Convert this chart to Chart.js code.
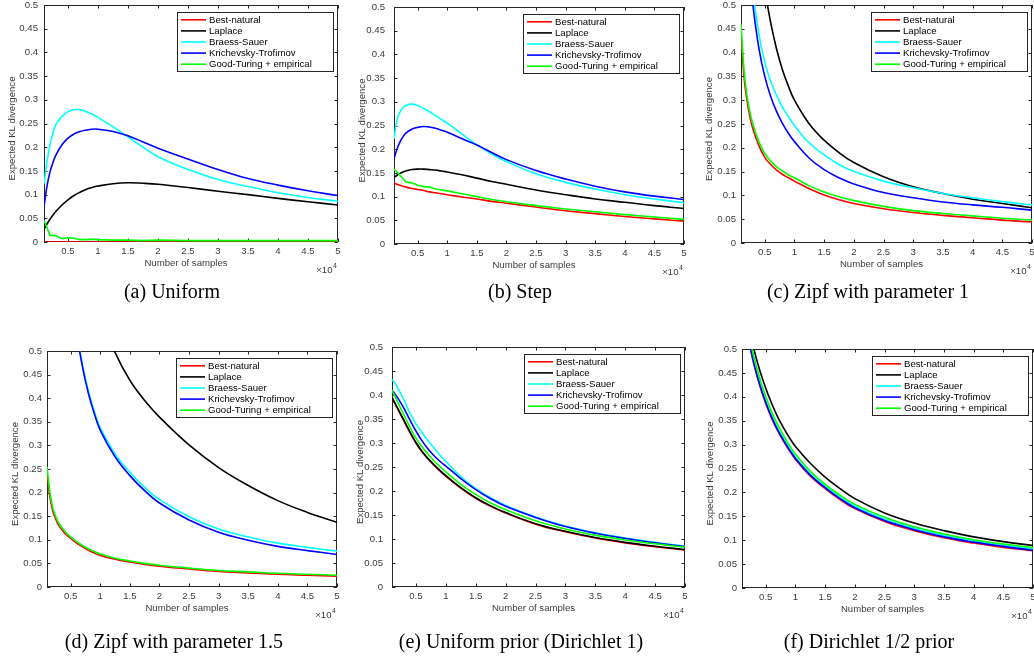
<!DOCTYPE html>
<html><head><meta charset="utf-8">
<script src="https://cdn.jsdelivr.net/npm/chart.js@4.4.1/dist/chart.umd.min.js"></script>
<style>
html,body{margin:0;padding:0;width:1034px;height:660px;overflow:hidden;background:#fff;}
canvas{position:absolute;}
.cap{position:absolute;width:400px;text-align:center;font-family:"Liberation Serif","Times New Roman",serif;font-size:20px;line-height:22px;color:#000;white-space:nowrap;}
</style></head><body>
<script>
// ---------- data ----------
const samples = [1000,1500,2000,2500,3000,4000,5000,6000,7000,8000,9000,10000,12500,15000,17500,20000,25000,30000,35000,40000,45000,50000];
const seriesNames = ['Best-natural','Laplace','Braess-Sauer','Krichevsky-Trofimov','Good-Turing + empirical'];
const seriesColors = ['#ff0000','#000000','#00ffff','#0000ff','#00ff00'];
const xTickValues = [5000,10000,15000,20000,25000,30000,35000,40000,45000,50000];
const xTickLabels = ['0.5','1','1.5','2','2.5','3','3.5','4','4.5','5'];
const yTickValues = [0,0.05,0.1,0.15,0.2,0.25,0.3,0.35,0.4,0.45,0.5];
const yTickLabels = ['0','0.05','0.1','0.15','0.2','0.25','0.3','0.35','0.4','0.45','0.5'];
const xAxisTitle = 'Number of samples';
const yAxisTitle = 'Expected KL divergence';
const captions = ['(a)  Uniform','(b)  Step','(c)  Zipf with parameter 1','(d)  Zipf with parameter 1.5','(e)  Uniform prior (Dirichlet 1)','(f)  Dirichlet 1/2 prior'];

// (a) Uniform
const uniformBest    = [0,0,0,0,0,0,0,0,0,0,0,0,0,0,0,0,0,0,0,0,0,0];
const uniformLaplace = [0.027,0.038,0.048,0.057,0.065,0.078,0.089,0.098,0.105,0.111,0.115,0.118,0.123,0.125,0.124,0.122,0.115,0.107,0.100,0.092,0.085,0.078];
const uniformBraess  = [0.122,0.170,0.205,0.230,0.248,0.265,0.275,0.279,0.279,0.275,0.270,0.263,0.243,0.222,0.200,0.180,0.153,0.132,0.117,0.104,0.094,0.086];
const uniformKT      = [0.075,0.118,0.148,0.168,0.184,0.205,0.219,0.228,0.233,0.236,0.238,0.238,0.233,0.224,0.211,0.198,0.175,0.153,0.134,0.120,0.108,0.098];
const uniformGT      = [0.045,0.030,0.014,0.014,0.013,0.007,0.009,0.008,0.005,0.005,0.006,0.005,0.004,0.004,0.003,0.004,0.003,0.003,0.003,0.003,0.003,0.003];
// (b) Step
const stepBest    = [0.128,0.126,0.124,0.122,0.120,0.117,0.115,0.113,0.110,0.108,0.106,0.104,0.099,0.095,0.090,0.086,0.078,0.070,0.064,0.058,0.053,0.048];
const stepLaplace = [0.140,0.145,0.149,0.152,0.154,0.157,0.158,0.158,0.157,0.156,0.154,0.152,0.146,0.139,0.132,0.126,0.114,0.104,0.095,0.088,0.081,0.075];
const stepBraess  = [0.222,0.262,0.278,0.287,0.292,0.295,0.292,0.286,0.279,0.271,0.263,0.255,0.232,0.209,0.190,0.174,0.148,0.130,0.116,0.104,0.095,0.087];
const stepKT      = [0.180,0.200,0.215,0.226,0.234,0.242,0.246,0.248,0.247,0.244,0.240,0.236,0.222,0.209,0.193,0.178,0.155,0.137,0.122,0.110,0.101,0.094];
const stepGT      = [0.158,0.152,0.145,0.138,0.131,0.129,0.124,0.121,0.120,0.116,0.114,0.112,0.106,0.100,0.094,0.089,0.081,0.074,0.068,0.062,0.057,0.052];
// (c) Zipf 1
const zipf1Best    = [0.44,0.35,0.30,0.265,0.24,0.205,0.18,0.165,0.153,0.144,0.137,0.130,0.114,0.101,0.091,0.083,0.072,0.064,0.058,0.053,0.048,0.044];
const zipf1Laplace = [2.1,1.5,1.17,0.97,0.83,0.65,0.536,0.463,0.407,0.363,0.329,0.300,0.250,0.216,0.190,0.169,0.139,0.118,0.104,0.092,0.083,0.074];
const zipf1Braess  = [1.1,0.85,0.7,0.6,0.53,0.44,0.38,0.34,0.31,0.285,0.265,0.247,0.21,0.185,0.165,0.15,0.13,0.116,0.104,0.095,0.087,0.08];
const zipf1KT      = [1.1,0.84,0.67,0.57,0.5,0.41,0.35,0.308,0.276,0.251,0.23,0.213,0.178,0.154,0.137,0.124,0.106,0.095,0.086,0.08,0.075,0.069];
const zipf1GT      = [0.46,0.365,0.31,0.275,0.25,0.213,0.188,0.172,0.16,0.151,0.143,0.137,0.12,0.107,0.097,0.089,0.077,0.068,0.062,0.057,0.052,0.048];
// (d) Zipf 1.5
const zipf15Best    = [0.24,0.19,0.16,0.143,0.13,0.114,0.103,0.093,0.085,0.078,0.072,0.067,0.059,0.053,0.048,0.044,0.038,0.033,0.030,0.027,0.025,0.023];
const zipf15Laplace = [2.7,2.1,1.75,1.5,1.33,1.08,0.93,0.82,0.74,0.676,0.622,0.579,0.497,0.438,0.395,0.360,0.301,0.253,0.215,0.183,0.158,0.137];
const zipf15Braess  = [2.9,2.0,1.55,1.25,1.05,0.8,0.64,0.542,0.47,0.415,0.372,0.337,0.282,0.243,0.211,0.185,0.149,0.123,0.106,0.093,0.084,0.076];
const zipf15KT      = [2.9,2.0,1.55,1.25,1.05,0.8,0.64,0.54,0.466,0.41,0.367,0.332,0.276,0.236,0.204,0.178,0.142,0.116,0.099,0.086,0.077,0.069];
const zipf15GT      = [0.255,0.20,0.167,0.149,0.135,0.118,0.106,0.096,0.088,0.081,0.075,0.07,0.061,0.055,0.05,0.046,0.04,0.035,0.032,0.029,0.027,0.025];
// (e) Uniform prior (Dirichlet 1)
const priorBest    = [0.394,0.382,0.370,0.358,0.346,0.322,0.300,0.282,0.267,0.254,0.242,0.231,0.206,0.185,0.168,0.154,0.131,0.115,0.102,0.092,0.084,0.077];
const priorLaplace = [0.395,0.383,0.371,0.359,0.347,0.323,0.301,0.283,0.268,0.255,0.243,0.232,0.207,0.186,0.169,0.155,0.132,0.116,0.103,0.093,0.085,0.078];
const priorBraess  = [0.432,0.425,0.414,0.402,0.39,0.362,0.34,0.322,0.305,0.29,0.275,0.262,0.23,0.205,0.186,0.17,0.146,0.127,0.113,0.102,0.093,0.085];
const priorKT      = [0.41,0.402,0.393,0.383,0.372,0.348,0.325,0.305,0.288,0.274,0.262,0.252,0.226,0.203,0.184,0.168,0.145,0.126,0.112,0.101,0.092,0.084];
const priorGT      = [0.41,0.397,0.384,0.371,0.358,0.333,0.31,0.292,0.277,0.263,0.251,0.24,0.214,0.193,0.175,0.161,0.138,0.121,0.108,0.098,0.09,0.083];
// (f) Dirichlet 1/2 prior
const halfBest    = [0.598,0.563,0.528,0.496,0.468,0.423,0.386,0.355,0.329,0.307,0.287,0.269,0.234,0.208,0.185,0.166,0.139,0.12,0.105,0.094,0.085,0.078];
const halfLaplace = [0.63,0.6,0.565,0.532,0.5,0.455,0.418,0.386,0.358,0.335,0.314,0.296,0.261,0.232,0.208,0.187,0.157,0.136,0.12,0.107,0.097,0.089];
const halfBraess  = [0.602,0.567,0.532,0.5,0.472,0.428,0.391,0.36,0.334,0.312,0.292,0.274,0.239,0.213,0.19,0.171,0.144,0.125,0.11,0.099,0.09,0.082];
const halfKT      = [0.6,0.565,0.53,0.498,0.47,0.425,0.388,0.357,0.331,0.309,0.289,0.271,0.236,0.21,0.187,0.168,0.141,0.122,0.107,0.096,0.087,0.079];
const halfGT      = [0.615,0.58,0.545,0.513,0.484,0.438,0.4,0.368,0.342,0.319,0.298,0.28,0.244,0.217,0.194,0.175,0.148,0.128,0.113,0.101,0.092,0.085];

// ---------- layout ----------
const panels = [
  {area:[44,5,338,242],   gap:6, cap:[172,291], series:[uniformBest,uniformLaplace,uniformBraess,uniformKT,uniformGT], jagged:[4]},
  {area:[394,7,684,244],  gap:9, cap:[520,291], series:[stepBest,stepLaplace,stepBraess,stepKT,stepGT], jagged:[4]},
  {area:[741,5,1032,243], gap:5, cap:[868,291], series:[zipf1Best,zipf1Laplace,zipf1Braess,zipf1KT,zipf1GT], jagged:[]},
  {area:[47,351,337,587], gap:5, cap:[174,641], series:[zipf15Best,zipf15Laplace,zipf15Braess,zipf15KT,zipf15GT], jagged:[]},
  {area:[392,347,685,587],gap:9, cap:[521,641], series:[priorBest,priorLaplace,priorBraess,priorKT,priorGT], jagged:[]},
  {area:[742,349,1033,588],gap:5, cap:[869,641], series:[halfBest,halfLaplace,halfBraess,halfKT,halfGT], jagged:[]}
];

const SANS = '"Liberation Sans", Arial, Helvetica, sans-serif';
const AXC = '#262626';
const TXC = '#3c3c3c';
const YW = 60, PT = 12, PR = 12, XH = 48;

function makeFrame() {
  return {
    id: 'frame',
    beforeDatasetsDraw(chart) {
      const {ctx, chartArea: a, scales: {x, y}} = chart;
      ctx.save();
      ctx.strokeStyle = AXC; ctx.lineWidth = 1;
      ctx.strokeRect(a.left + 0.5, a.top + 0.5, a.right - a.left - 1, a.bottom - a.top - 1);
      ctx.beginPath();
      xTickValues.forEach(v => {
        const px = Math.round(x.getPixelForValue(v)) + 0.5;
        ctx.moveTo(px, a.bottom); ctx.lineTo(px, a.bottom - 3.5);
        ctx.moveTo(px, a.top); ctx.lineTo(px, a.top + 3.5);
      });
      yTickValues.forEach(v => {
        const py = Math.round(y.getPixelForValue(v)) + 0.5;
        ctx.moveTo(a.left, py); ctx.lineTo(a.left + 3.5, py);
        ctx.moveTo(a.right, py); ctx.lineTo(a.right - 3.5, py);
      });
      ctx.stroke();
      ctx.restore();
    },
    afterDatasetsDraw(chart) {
      const {ctx, chartArea: a} = chart;
      const lw = 156, lh = 59;
      const bx = Math.round(a.right - 5 - lw), by = Math.round(a.top + 7);
      ctx.save();
      ctx.fillStyle = '#fff';
      ctx.fillRect(bx, by, lw, lh);
      ctx.strokeStyle = AXC; ctx.lineWidth = 1;
      ctx.strokeRect(bx + 0.5, by + 0.5, lw, lh);
      ctx.font = '9.6px ' + SANS;
      ctx.textBaseline = 'middle';
      ctx.textAlign = 'left';
      seriesNames.forEach((name, i) => {
        const cy = by + 7.8 + i * 11.1;
        ctx.strokeStyle = seriesColors[i]; ctx.lineWidth = 1.6;
        ctx.beginPath(); ctx.moveTo(bx + 4, cy); ctx.lineTo(bx + 29, cy); ctx.stroke();
        ctx.fillStyle = '#000';
        ctx.fillText(name, bx + 32, cy + 0.5);
      });
      ctx.restore();
    },
    afterDraw(chart) {
      const {ctx, chartArea: a} = chart;
      ctx.save();
      ctx.fillStyle = TXC;
      ctx.font = '9.6px ' + SANS;
      ctx.textAlign = 'center'; ctx.textBaseline = 'middle';
      ctx.fillText(xAxisTitle, (a.left + a.right) / 2 - 5, a.bottom + 21.5);
      ctx.save();
      ctx.translate(a.left - 32, (a.top + a.bottom) / 2 + 5);
      ctx.rotate(-Math.PI / 2);
      ctx.fillText(yAxisTitle, 0, 0);
      ctx.restore();
      ctx.textAlign = 'right';
      ctx.fillText('\u00d710', a.right - 5.5, a.bottom + 28);
      ctx.font = '7px ' + SANS;
      ctx.textAlign = 'left';
      ctx.fillText('4', a.right - 5, a.bottom + 24);
      ctx.restore();
    }
  };
}

panels.forEach((p, k) => {
  const [L, T, R, B] = p.area;
  const W = (R - L) + YW + PR, H = (B - T) + PT + XH;
  const cv = document.createElement('canvas');
  cv.width = W; cv.height = H;
  cv.style.left = (L - YW) + 'px'; cv.style.top = (T - PT) + 'px';
  cv.style.width = W + 'px'; cv.style.height = H + 'px';
  document.body.appendChild(cv);

  const cap = document.createElement('div');
  cap.className = 'cap';
  cap.textContent = captions[k];
  cap.style.left = (p.cap[0] - 200) + 'px';
  cap.style.top = (p.cap[1] - 11) + 'px';
  document.body.appendChild(cap);

  const datasets = p.series.map((arr, i) => {
    const jag = p.jagged.includes(i);
    return {
      label: seriesNames[i],
      data: samples.map((s, j) => ({x: s, y: arr[j]})),
      borderColor: seriesColors[i],
      backgroundColor: seriesColors[i],
      borderWidth: 1.6,
      pointRadius: 0,
      fill: false,
      order: 5 - i,
      cubicInterpolationMode: 'default',
      tension: jag ? 0 : 0.4
    };
  });

  new Chart(cv, {
    type: 'line',
    data: {datasets},
    options: {
      responsive: false, animation: false, devicePixelRatio: 1, events: [],
      layout: {padding: {left: 0, top: PT, right: PR, bottom: 0}},
      plugins: {legend: {display: false}, tooltip: {enabled: false}},
      scales: {
        x: {
          type: 'linear', min: 1000, max: 50000,
          grid: {display: false, drawTicks: false}, border: {display: false},
          afterBuildTicks: ax => { ax.ticks = xTickValues.map(v => ({value: v})); },
          afterFit: ax => { ax.height = XH; ax.paddingLeft = 0; ax.paddingRight = 0; ax.paddingTop = 0; ax.paddingBottom = 0; },
          ticks: {autoSkip: false, maxRotation: 0, minRotation: 0, padding: 4, color: TXC,
                  font: {family: SANS, size: 9.6}, callback: (v, i) => xTickLabels[i]}
        },
        y: {
          type: 'linear', min: 0, max: 0.5,
          grid: {display: false, drawTicks: false}, border: {display: false},
          afterBuildTicks: ax => { ax.ticks = yTickValues.map(v => ({value: v})); },
          afterFit: ax => { ax.width = YW; ax.paddingLeft = 0; ax.paddingRight = 0; ax.paddingTop = 0; ax.paddingBottom = 0; },
          ticks: {autoSkip: false, padding: p.gap, color: TXC,
                  font: {family: SANS, size: 9.6}, callback: (v, i) => yTickLabels[i]}
        }
      }
    },
    plugins: [makeFrame()]
  });
});
</script>
</body></html>
